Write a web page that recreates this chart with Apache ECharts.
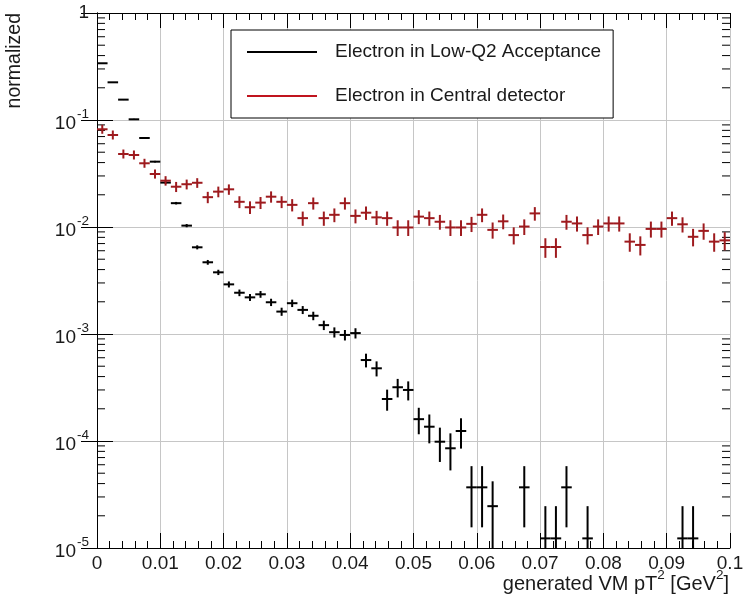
<!DOCTYPE html>
<html>
<head>
<meta charset="utf-8">
<script src="https://cdn.jsdelivr.net/npm/echarts@6/dist/echarts.min.js"></script>
<style>
html, body { margin: 0; padding: 0; background: #fff; }
#chart { width: 756px; height: 599px; }
</style>
</head>
<body>
<div id="chart"></div>
<script>
// histogram binning (60 bins over 0 .. 0.1 GeV^2)
var nBins = 60, xMin = 0, xMax = 0.1;
var binWidth = (xMax - xMin) / nBins;
var yMin = 1e-5, yMax = 1;
var fontName = '"Liberation Sans", Arial, Helvetica, sans-serif';

var lowQ2Name = 'Electron in Low-Q2 Acceptance';
var centralName = 'Electron in Central detector';

// normalized bin contents (null = empty bin)
var lowQ2Values = [
    0.339, 0.225, 0.155, 0.1015, 0.0679, 0.0408, 0.026, 0.0167, 0.0103, 0.00646,
    0.00468, 0.00377, 0.00291, 0.00243, 0.00220, 0.00235, 0.00198, 0.00162, 0.00194, 0.00168,
    0.00148, 0.00121, 0.00104, 0.00098, 0.00102, 0.000571, 0.000478, 0.000247, 0.000318, 0.000300,
    0.000160, 0.000136, 0.0000985, 0.0000855, 0.000124, 0.0000369, 0.0000369, 0.0000246, null, null,
    0.0000369, null, 0.0000123, 0.0000123, 0.0000369, null, 0.0000123, null, null, null,
    null, null, null, null, null, 0.0000123, 0.0000123, null, null, null
];
var lowQ2Errors = [
    0.00204, 0.00166, 0.00138, 0.00112, 0.000914, 0.000708, 0.000566, 0.000453, 0.000356, 0.000282,
    0.000240, 0.000215, 0.000189, 0.000173, 0.000164, 0.000170, 0.000156, 0.000141, 0.000154, 0.000144,
    0.000135, 0.000122, 0.000113, 0.000110, 0.000112, 0.0000838, 0.0000767, 0.0000551, 0.0000625, 0.0000607,
    0.0000444, 0.0000409, 0.0000348, 0.0000324, 0.0000391, 0.0000213, 0.0000213, 0.0000174, null, null,
    0.0000213, null, 0.0000123, 0.0000123, 0.0000213, null, 0.0000123, null, null, null,
    null, null, null, null, null, 0.0000123, 0.0000123, null, null, null
];
var centralValues = [
    0.0819, 0.0724, 0.0481, 0.0471, 0.0394, 0.0313, 0.0271, 0.0238, 0.0251, 0.0259,
    0.0190, 0.0214, 0.0225, 0.0172, 0.0153, 0.0169, 0.0192, 0.0172, 0.0161, 0.0121,
    0.0167, 0.0121, 0.0130, 0.0167, 0.0127, 0.0136, 0.0123, 0.0121, 0.0099, 0.0099,
    0.0125, 0.0121, 0.0112, 0.0099, 0.0099, 0.0107, 0.0130, 0.0094, 0.0113, 0.0084,
    0.0101, 0.0134, 0.0065, 0.0065, 0.0112, 0.0108, 0.0084, 0.0101, 0.0108, 0.0108,
    0.0073, 0.0068, 0.0096, 0.0096, 0.0121, 0.0106, 0.0081, 0.0092, 0.0073, 0.0075
];
var centralErrors = [
    0.00479, 0.00450, 0.00367, 0.00363, 0.00332, 0.00296, 0.00275, 0.00258, 0.00265, 0.00269,
    0.00231, 0.00245, 0.00251, 0.00219, 0.00207, 0.00218, 0.00232, 0.00219, 0.00212, 0.00184,
    0.00216, 0.00184, 0.00191, 0.00216, 0.00189, 0.00195, 0.00186, 0.00184, 0.00166, 0.00166,
    0.00187, 0.00184, 0.00177, 0.00166, 0.00166, 0.00173, 0.00191, 0.00162, 0.00178, 0.00153,
    0.00168, 0.00194, 0.00135, 0.00135, 0.00177, 0.00174, 0.00153, 0.00168, 0.00174, 0.00174,
    0.00143, 0.00138, 0.00164, 0.00164, 0.00184, 0.00172, 0.00151, 0.00160, 0.00143, 0.00145
];

var yTickLabels = {
    '0': '{u|1}',
    '-1': '{n|10}{s|-1}',
    '-2': '{n|10}{s|-2}',
    '-3': '{n|10}{s|-3}',
    '-4': '{n|10}{s|-4}',
    '-5': '{n|10}{s|-5}'
};

function binData(values, errors) {
    var out = [];
    for (var i = 0; i < nBins; i++) {
        if (values[i] == null) continue;
        var lo = xMin + i * binWidth;
        out.push([lo, lo + binWidth, values[i], values[i] - errors[i], values[i] + errors[i]]);
    }
    return out;
}

// minor ticks of the log axis: 2..9 in every decade
var logMinorTicks = [];
for (var e = -5; e < 0; e++) {
    for (var m = 2; m <= 9; m++) logMinorTicks.push([xMin, m * Math.pow(10, e)]);
}

// error cross; minHalf keeps the '+' marker visible where the error is tiny
var makeCross = function (minHalf) {
    return function (params, api) {
        var cs = params.coordSys;
        var y = api.value(2), lo = api.value(3), hi = api.value(4);
        var left = api.coord([api.value(0), y]);
        var right = api.coord([api.value(1), y]);
        var xc = (left[0] + right[0]) / 2;
        var top = api.coord([api.value(0), hi])[1];
        var bot = lo > yMin ? api.coord([api.value(0), lo])[1] : cs.y + cs.height;
        top = Math.min(top, left[1] - minHalf);
        bot = Math.max(bot, left[1] + minHalf);
        var style = { stroke: api.visual('color'), lineWidth: 2 };
        return {
            type: 'group',
            children: [
                { type: 'line', shape: { x1: left[0], y1: left[1], x2: right[0], y2: right[1] }, style: style },
                { type: 'line', shape: { x1: xc, y1: top, x2: xc, y2: bot }, style: style }
            ]
        };
    };
};

var renderMinorTick = function (params, api) {
    var cs = params.coordSys;
    var yy = api.coord([xMin, api.value(1)])[1];
    var style = { stroke: '#000', lineWidth: 1 };
    return {
        type: 'group',
        children: [
            { type: 'line', shape: { x1: cs.x, y1: yy, x2: cs.x + 8, y2: yy }, style: style },
            { type: 'line', shape: { x1: cs.x + cs.width - 8, y1: yy, x2: cs.x + cs.width, y2: yy }, style: style }
        ]
    };
};

var xAxisBase = {
    type: 'value',
    min: xMin,
    max: xMax,
    interval: 0.01,
    axisLine: { show: true, onZero: false, lineStyle: { color: '#000', width: 1 } },
    axisTick: { show: true, inside: true, length: 15, lineStyle: { color: '#000' } },
    minorTick: { show: true, splitNumber: 5, length: 7, lineStyle: { color: '#000' } }
};

var option = {
    animation: false,
    backgroundColor: '#fff',
    grid: { left: 97, right: 26, top: 13, bottom: 51 },
    legend: {
        data: [
            { name: lowQ2Name, itemStyle: { color: '#000' } },
            { name: centralName, itemStyle: { color: '#c0141e' } }
        ],
        orient: 'vertical',
        left: 231,
        top: 30,
        icon: 'rect',
        itemWidth: 70,
        itemHeight: 2,
        itemGap: 24,
        padding: [12, 12, 12, 16],
        borderColor: '#000',
        borderWidth: 1,
        borderRadius: 0,
        backgroundColor: '#fff',
        selectedMode: false,
        textStyle: { fontFamily: fontName, fontSize: 19, color: '#1a1a1a', lineHeight: 20, padding: [0, 0, 0, 13] }
    },
    xAxis: [
        echarts.util.merge({
            position: 'bottom',
            axisLabel: {
                show: true, margin: 6, color: '#1a1a1a', fontFamily: fontName, fontSize: 19,
                formatter: function (v) { return String(Math.round(v * 100) / 100); }
            },
            splitLine: { show: true, lineStyle: { color: '#c6c6c6', width: 1 } }
        }, xAxisBase, true),
        echarts.util.merge({
            position: 'top',
            axisLabel: { show: false },
            splitLine: { show: false }
        }, xAxisBase, true)
    ],
    yAxis: [
        {
            type: 'log',
            logBase: 10,
            min: yMin,
            max: yMax,
            position: 'left',
            axisLine: { show: true, lineStyle: { color: '#000', width: 1 } },
            axisTick: { show: true, inside: true, length: 16, lineStyle: { color: '#000' } },
            axisLabel: {
                show: true, margin: 8, color: '#1a1a1a', fontFamily: fontName,
                formatter: function (v) { return yTickLabels[String(Math.round(Math.log10(v)))] || ''; },
                rich: {
                    u: { fontSize: 19, fontFamily: fontName, color: '#1a1a1a', lineHeight: 20 },
                    n: { fontSize: 19, fontFamily: fontName, color: '#1a1a1a', lineHeight: 26, verticalAlign: 'bottom' },
                    s: { fontSize: 13.5, fontFamily: fontName, color: '#1a1a1a', lineHeight: 26, verticalAlign: 'top', padding: [0, 0, 0, 1] }
                }
            },
            splitLine: { show: true, lineStyle: { color: '#c6c6c6', width: 1 } }
        },
        {
            type: 'log',
            logBase: 10,
            min: yMin,
            max: yMax,
            position: 'right',
            axisLine: { show: true, lineStyle: { color: '#000', width: 1 } },
            axisTick: { show: true, inside: true, length: 16, lineStyle: { color: '#000' } },
            axisLabel: { show: false },
            splitLine: { show: false }
        }
    ],
    graphic: [
        {
            type: 'text',
            x: 15,
            y: 13,
            rotation: Math.PI / 2,
            style: {
                text: 'normalized', fill: '#1a1a1a', fontFamily: fontName, fontSize: 19.5,
                align: 'right', verticalAlign: 'middle'
            }
        },
        {
            type: 'text',
            x: 729,
            y: 581,
            style: {
                text: '{n|generated VM pT}{s|2}{n| [GeV}{s|2}{n|]}',
                align: 'right', verticalAlign: 'middle',
                rich: {
                    n: { fontSize: 20, fontFamily: fontName, fill: '#1a1a1a', lineHeight: 26, verticalAlign: 'bottom' },
                    s: { fontSize: 13.5, fontFamily: fontName, fill: '#1a1a1a', lineHeight: 26, verticalAlign: 'top' }
                }
            }
        }
    ],
    series: [
        {
            type: 'custom',
            name: 'minor ticks',
            silent: true,
            xAxisIndex: 0,
            yAxisIndex: 0,
            renderItem: renderMinorTick,
            encode: { x: 0, y: 1 },
            data: logMinorTicks,
            z: 1
        },
        {
            type: 'custom',
            name: lowQ2Name,
            xAxisIndex: 0,
            yAxisIndex: 0,
            itemStyle: { color: '#000' },
            renderItem: makeCross(0),
            encode: { x: [0, 1], y: 2 },
            data: binData(lowQ2Values, lowQ2Errors),
            clip: true,
            z: 3
        },
        {
            type: 'custom',
            name: centralName,
            xAxisIndex: 0,
            yAxisIndex: 0,
            itemStyle: { color: '#9e1a1e' },
            renderItem: makeCross(4.5),
            encode: { x: [0, 1], y: 2 },
            data: binData(centralValues, centralErrors),
            clip: true,
            z: 4
        }
    ]
};

var chart = echarts.init(document.getElementById('chart'), null, { renderer: 'canvas' });
chart.setOption(option);
</script>
</body>
</html>
